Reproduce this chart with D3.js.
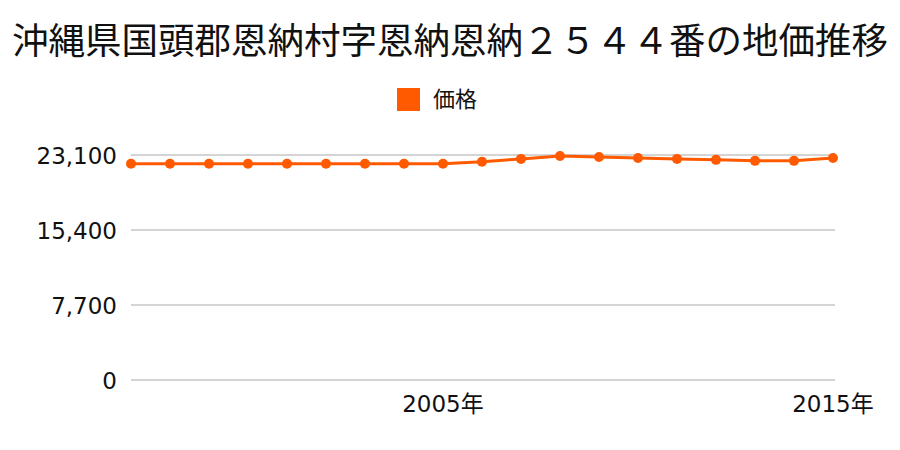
<!DOCTYPE html>
<html>
<head>
<meta charset="utf-8">
<script src="https://cdn.jsdelivr.net/npm/d3@7"></script>
<style>
  body { margin: 0; background: #fff; }
  svg { font-family: "Noto Sans CJK JP", "Noto Sans", sans-serif; }
  .tick-label { font-family: "DejaVu Sans", "Noto Sans CJK JP", sans-serif; }
</style>
</head>
<body>
<div id="chart"></div>
<script>
const title = "沖縄県国頭郡恩納村字恩納恩納２５４４番の地価推移";
const seriesName = "価格";
const years = [1997, 1998, 1999, 2000, 2001, 2002, 2003, 2004, 2005, 2006,
               2007, 2008, 2009, 2010, 2011, 2012, 2013, 2014, 2015];
const prices = [22200, 22200, 22200, 22200, 22200, 22200, 22200, 22200, 22200, 22400,
                22700, 23000, 22900, 22800, 22700, 22600, 22500, 22500, 22800];
const yTicks = [0, 7700, 15400, 23100];
const xTicks = [2005, 2015];

const color = "#ff5a00";
const width = 900, height = 450;

const svg = d3.select("#chart")
  .append("svg")
  .attr("width", width)
  .attr("height", height);

const x = d3.scaleLinear()
  .domain(d3.extent(years))
  .range([131, 833]);

const y = d3.scaleLinear()
  .domain([0, d3.max(yTicks)])
  .range([380, 155]);

// title
svg.append("text")
  .attr("x", 450)
  .attr("y", 54)
  .attr("text-anchor", "middle")
  .attr("font-size", 36.5)
  .attr("fill", "#111")
  .text(title);

// legend
svg.append("rect")
  .attr("x", 397)
  .attr("y", 88)
  .attr("width", 23)
  .attr("height", 23)
  .attr("fill", color);
svg.append("text")
  .attr("x", 433)
  .attr("y", 107)
  .attr("font-size", 22)
  .attr("fill", "#111")
  .text(seriesName);

// grid
svg.append("g")
  .selectAll("line")
  .data(yTicks)
  .join("line")
  .attr("x1", 131)
  .attr("x2", 835)
  .attr("y1", d => y(d))
  .attr("y2", d => y(d))
  .attr("stroke", "#aaa")
  .attr("stroke-width", 1);

// y axis labels
svg.append("g")
  .selectAll("text")
  .data(yTicks)
  .join("text")
  .attr("class", "tick-label")
  .attr("x", 117)
  .attr("y", d => y(d) + 8.5)
  .attr("text-anchor", "end")
  .attr("font-size", 23)
  .attr("fill", "#111")
  .text(d => d3.format(",")(d));

// x axis labels
svg.append("g")
  .selectAll("text")
  .data(xTicks)
  .join("text")
  .attr("class", "tick-label")
  .attr("x", d => x(d))
  .attr("y", 412)
  .attr("text-anchor", "middle")
  .attr("font-size", 23)
  .attr("fill", "#111")
  .text(d => d + "年");

const data = years.map((yr, i) => ({ year: yr, value: prices[i] }));

const line = d3.line()
  .x(d => x(d.year))
  .y(d => y(d.value));

svg.append("path")
  .datum(data)
  .attr("fill", "none")
  .attr("stroke", color)
  .attr("stroke-width", 3)
  .attr("d", line);

svg.append("g")
  .selectAll("circle")
  .data(data)
  .join("circle")
  .attr("cx", d => x(d.year))
  .attr("cy", d => y(d.value))
  .attr("r", 5)
  .attr("fill", color);
</script>
</body>
</html>
